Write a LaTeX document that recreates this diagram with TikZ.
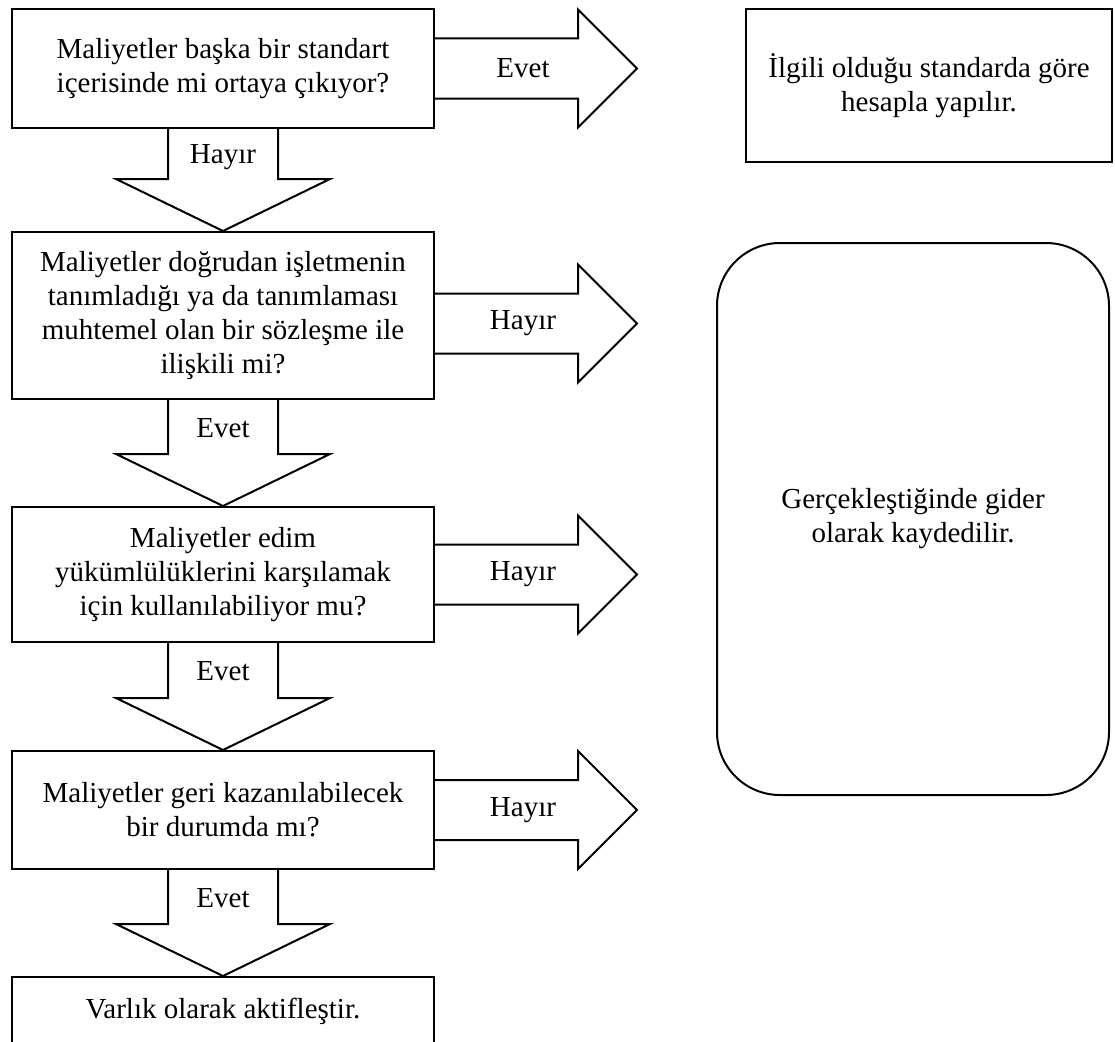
\documentclass[tikz,border=0pt]{standalone}
\usepackage{fontspec}
\setmainfont{Liberation Serif}
\usetikzlibrary{positioning,calc}

\begin{document}
\begin{tikzpicture}[x=1pt, y=-1pt, font=\fontsize{29}{34}\selectfont,
        qbox/.style={draw, line width=2pt, minimum width=422pt, align=center, inner sep=0pt},
        blockarr/.style={draw, line width=2pt, line join=miter},
        lbl/.style={inner sep=0pt}]
    \useasboundingbox (0,0) rectangle (1115,1041);
    % question column
    \node[qbox, minimum height=119pt] (q1) at (223,68.5) {Maliyetler başka bir standart\\içerisinde mi ortaya çıkıyor?};
    \node[qbox, minimum height=167pt, below=102pt of q1] (q2) {Maliyetler doğrudan işletmenin\\tanımladığı ya da tanımlaması\\muhtemel olan bir sözleşme ile\\ilişkili mi?};
    \node[qbox, minimum height=135pt, below=106pt of q2] (q3) {Maliyetler edim\\yükümlülüklerini karşılamak\\için kullanılabiliyor mu?};
    \node[qbox, minimum height=118pt, below=107pt of q3] (q4) {Maliyetler geri kazanılabilecek\\bir durumda mı?};
    \node[qbox, minimum height=69pt, below=106pt of q4] (q5) {Varlık olarak aktifleştir.};
    % outcomes
    \node[draw, line width=2pt, minimum width=366pt, minimum height=153pt, align=center, inner sep=0pt] (r1) at (929,85.5) {İlgili olduğu standarda göre\\hesapla yapılır.};
    \node[draw, line width=2pt, rounded corners=63pt, minimum width=392pt, minimum height=552pt, align=center, inner sep=0pt] (r2) at (913,519) {Gerçekleştiğinde gider\\olarak kaydedilir.};
    % right block arrows
    \draw[blockarr] ($(q1.east)+(0,-30)$) -- ++(143,0) -- ++(0,-29) -- ++(59,59) -- ++(-59,59) -- ++(0,-29) -- ++(-143,0);
    \node[lbl] (a1) at ($(q1.east)+(88,0)$) {Evet};
    \draw[blockarr] ($(q2.east)+(0,-22)$) -- ++(143,0) -- ++(0,-29) -- ++(59,59) -- ++(-59,59) -- ++(0,-29) -- ++(-143,0);
    \node[lbl] (a2) at ($(q2.east)+(88,8)$) {Hayır};
    \draw[blockarr] ($(q3.east)+(0,-30)$) -- ++(143,0) -- ++(0,-29) -- ++(59,59) -- ++(-59,59) -- ++(0,-29) -- ++(-143,0);
    \node[lbl] (a3) at ($(q3.east)+(88,0)$) {Hayır};
    \draw[blockarr] ($(q4.east)+(0,-30)$) -- ++(143,0) -- ++(0,-29) -- ++(59,59) -- ++(-59,59) -- ++(0,-29) -- ++(-143,0);
    \node[lbl] (a4) at ($(q4.east)+(88,0)$) {Hayır};
    % down block arrows
    \draw[blockarr] ($(q1.south)+(-55,0)$) -- ($(q2.north)+(-55,-52)$) -- ++(-52,0) -- (q2.north) -- ++(107,-52) -- ++(-52,0) -- ($(q1.south)+(55,0)$);
    \node[lbl] (d1) at ($(q1.south)+(0,28)$) {Hayır};
    \draw[blockarr] ($(q2.south)+(-55,0)$) -- ($(q3.north)+(-55,-52)$) -- ++(-52,0) -- (q3.north) -- ++(107,-52) -- ++(-52,0) -- ($(q2.south)+(55,0)$);
    \node[lbl] (d2) at ($(q2.south)+(0,28)$) {Evet};
    \draw[blockarr] ($(q3.south)+(-55,0)$) -- ($(q4.north)+(-55,-52)$) -- ++(-52,0) -- (q4.north) -- ++(107,-52) -- ++(-52,0) -- ($(q3.south)+(55,0)$);
    \node[lbl] (d3) at ($(q3.south)+(0,28)$) {Evet};
    \draw[blockarr] ($(q4.south)+(-55,0)$) -- ($(q5.north)+(-55,-52)$) -- ++(-52,0) -- (q5.north) -- ++(107,-52) -- ++(-52,0) -- ($(q4.south)+(55,0)$);
    \node[lbl] (d4) at ($(q4.south)+(0,28)$) {Evet};
\end{tikzpicture}
\end{document}
